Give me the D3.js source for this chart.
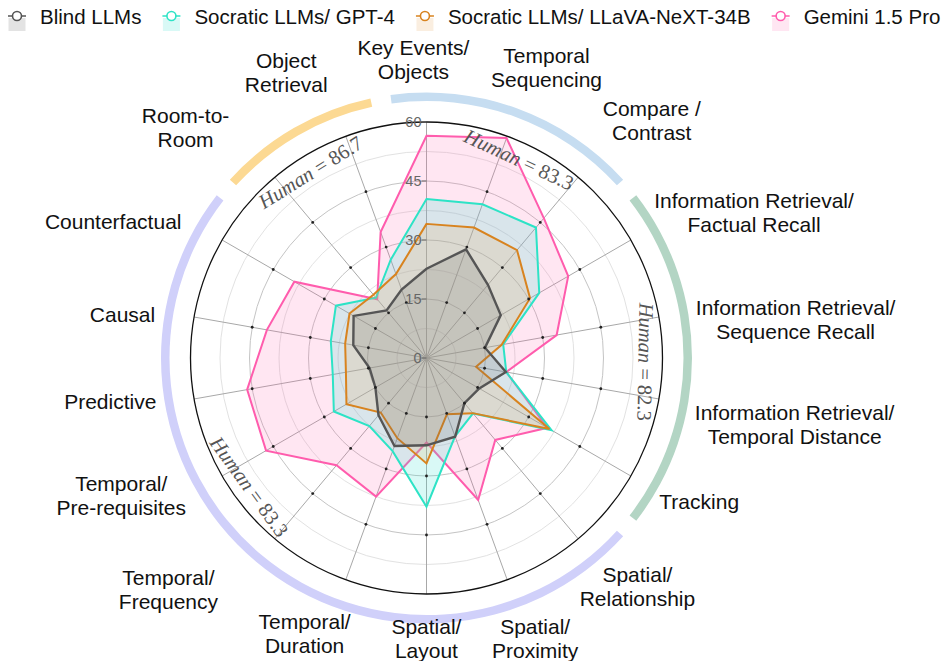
<!DOCTYPE html>
<html><head><meta charset="utf-8">
<script src="https://cdn.jsdelivr.net/npm/d3@7"></script>
<style>body{margin:0;background:#fff} svg{display:block}</style>
</head><body>
<svg id="chart" width="952" height="661"></svg>
<script>
// ---------------- DATA ----------------
const categories = [
  "Key Events/\nObjects", "Temporal\nSequencing", "Compare /\nContrast",
  "Information Retrieval/\nFactual Recall", "Information Retrieval/\nSequence Recall",
  "Information Retrieval/\nTemporal Distance", "Tracking", "Spatial/\nRelationship",
  "Spatial/\nProximity", "Spatial/\nLayout", "Temporal/\nDuration", "Temporal/\nFrequency",
  "Temporal/\nPre-requisites", "Predictive", "Causal", "Counterfactual",
  "Room-to-\nRoom", "Object\nRetrieval"
];
const seriesNames = ["Blind LLMs", "Socratic LLMs/ GPT-4", "Socratic LLMs/ LLaVA-NeXT-34B", "Gemini 1.5 Pro"];
const blindLLMs     = [22.7, 29.4, 24.3, 21.8, 15.1, 20.5, 15.5, 15.0, 21.3, 22.2, 23.8, 19.0, 15.0, 14.7, 18.9, 21.4, 15.8, 18.5];
const socraticGPT4  = [40.4, 41.6, 43.3, 33.1, 19.8, 20.6, 36.7, 18.4, 21.2, 37.8, 25.2, 22.6, 27.2, 24.2, 24.7, 26.6, 20.0, 26.6];
const socraticLLaVA = [34.1, 35.3, 35.8, 30.4, 19.4, 12.8, 36.1, 18.3, 15.2, 26.8, 21.7, 18.1, 23.5, 20.8, 21.0, 22.6, 21.0, 22.7];
const gemini15Pro   = [56.5, 59.5, 46.4, 41.6, 33.6, 20.6, 35.5, 27.2, 38.4, 21.5, 37.5, 35.6, 47.1, 46.3, 41.2, 38.8, 19.5, 34.1];
const radialTicks = [0, 15, 30, 45, 60];
// category groups (first index, last index) and human score per group
const groupFirst = [16, 0, 3, 7];
const groupLast  = [17, 2, 6, 15];
const humanScores = ["86.7", "83.3", "82.3", "83.3"];

// ---------------- LAYOUT / STYLE ----------------
const W = 952, H = 661, cx = 426.5, cy = 358, R = 236;
const seriesStyle = [
  {line: "#555555", fill: "rgba(100,100,100,0.18)", sw: 2.4},
  {line: "#2de3c6", fill: "rgba(64,224,208,0.20)", sw: 2},
  {line: "#d8831f", fill: "rgba(230,170,100,0.20)", sw: 2},
  {line: "#ff5cad", fill: "rgba(255,105,180,0.17)", sw: 2}
];
const groupColors = ["#fcd993", "#c6ddf1", "#b3d5c4", "#d0d0fa"];
const humanAngles = [328, 25, 91, 234];  // label placement (degrees)
const labelNudge = [[-13,0],[7,-10],[17,-9],[3,4],[0,13],[-1,15],[0,0],[-3,0],[0,0],[0,-18],
                    [-12,-5],[-49,3],[-11,-12],[0,-6],[-1,6],[-16,7],[-36,-2],[-32,-5]];

const svg = d3.select("#chart");
const n = categories.length;
const ang = d3.scaleLinear().domain([0, n]).range([0, 2 * Math.PI]);
const rad = d3.scaleLinear().domain([0, 60]).range([0, R]);
const g = svg.append("g").attr("transform", `translate(${cx},${cy})`);

// grid circles
const gridVals = d3.range(7.5, 60, 7.5);
g.selectAll("circle.grid").data(gridVals).join("circle")
  .attr("r", d => rad(d)).attr("fill", "none")
  .attr("stroke", d => d % 15 === 0 ? "#c4c4c4" : "#e2e2e2").attr("stroke-width", 1);
// spokes
g.selectAll("line.spoke").data(d3.range(n)).join("line")
  .attr("x1", 0).attr("y1", 0)
  .attr("x2", i => rad(60) * Math.sin(ang(i))).attr("y2", i => -rad(60) * Math.cos(ang(i)))
  .attr("stroke", "#a8a8a8").attr("stroke-width", 1);
// outer circle
g.append("circle").attr("r", rad(60)).attr("fill", "none").attr("stroke", "#111").attr("stroke-width", 1.3);

// series polygons (drawn from last to first)
const allSeries = [blindLLMs, socraticGPT4, socraticLLaVA, gemini15Pro];
const radial = d3.lineRadial().angle((d, i) => ang(i)).radius(d => rad(d)).curve(d3.curveLinearClosed);
[3, 1, 2, 0].forEach(k => {
  g.append("path").attr("d", radial(allSeries[k]))
    .attr("fill", seriesStyle[k].fill).attr("stroke", seriesStyle[k].line)
    .attr("stroke-width", seriesStyle[k].sw).attr("stroke-linejoin", "miter");
});

// dots on spokes at 15/30/45
const dotData = [];
d3.range(1, n).forEach(i => [15, 30, 45].forEach(v => dotData.push({i, v})));
g.selectAll("circle.dot").data(dotData).join("circle")
  .attr("cx", d => rad(d.v) * Math.sin(ang(d.i))).attr("cy", d => -rad(d.v) * Math.cos(ang(d.i)))
  .attr("r", 1.4).attr("fill", "#222");

// radial tick labels
radialTicks.forEach(v => {
  g.append("line").attr("x1", -5).attr("x2", 0).attr("y1", -rad(v)).attr("y2", -rad(v))
    .attr("stroke", "#666").attr("stroke-width", 1);
  g.append("text").attr("x", -5).attr("y", -rad(v)).attr("text-anchor", "end")
    .attr("dominant-baseline", "central").attr("font-family", "Liberation Sans, Arial, sans-serif")
    .attr("font-size", 14.5).attr("fill", "#666").text(v);
});

// group arcs
const pad = 2.2 * Math.PI / 180, half = Math.PI / n;
const arcGen = d3.arc().innerRadius(257).outerRadius(265.5);
groupFirst.forEach((f, k) => {
  const l = groupLast[k];
  g.append("path").attr("d", arcGen({startAngle: ang(f) - half + pad, endAngle: ang(l) + half - pad}))
    .attr("fill", groupColors[k]);
});

// human labels
humanScores.forEach((hs, k) => {
  const th = humanAngles[k] * Math.PI / 180;
  const r = 219;
  const x = r * Math.sin(th), y = -r * Math.cos(th);
  let rot = humanAngles[k];
  if (Math.cos(th) < -0.2) rot -= 180;
  if (rot > 180) rot -= 360;
  const t = g.append("text").attr("transform", `translate(${x},${y}) rotate(${rot})`)
    .attr("text-anchor", "middle").attr("dominant-baseline", "central")
    .attr("font-family", "Liberation Serif, Times New Roman, serif").attr("font-size", 20.5).attr("fill", "#555");
  t.append("tspan").attr("font-style", "italic").text("Human");
  t.append("tspan").text(" = " + hs);
});

// category labels
const LR = 275;
categories.forEach((cat, i) => {
  const lines = cat.split("\n");
  const lab = svg.append("text").attr("text-anchor", "middle")
    .attr("font-family", "Liberation Sans, Arial, sans-serif").attr("font-size", 21).attr("fill", "#111");
  lines.forEach((ln, k) => lab.append("tspan").attr("x", 0).attr("dy", k === 0 ? 0 : 24).text(ln));
  const bb = lab.node().getBBox();
  const th = ang(i), s = Math.sin(th), c = Math.cos(th);
  const tx = cx + LR * s + s * bb.width / 2 + labelNudge[i][0];
  const ty = cy - LR * c - c * bb.height / 2 + labelNudge[i][1];
  lab.attr("transform", `translate(${tx - (bb.x + bb.width / 2)},${ty - (bb.y + bb.height / 2)})`);
});

// legend
const legend = svg.append("g");
let lx = 17;
const ly = 16;
seriesNames.forEach((name, k) => {
  const it = legend.append("g");
  it.append("rect").attr("x", lx - 8.5).attr("y", ly + 2).attr("width", 17).attr("height", 13)
    .attr("fill", seriesStyle[k].fill);
  it.append("line").attr("x1", lx - 9).attr("x2", lx + 9).attr("y1", ly).attr("y2", ly)
    .attr("stroke", seriesStyle[k].line).attr("stroke-width", 1.5);
  it.append("circle").attr("cx", lx).attr("cy", ly).attr("r", 4.5)
    .attr("fill", "#fff").attr("stroke", seriesStyle[k].line).attr("stroke-width", 1.6);
  const t = it.append("text").attr("x", lx + 23).attr("y", ly).attr("dominant-baseline", "central")
    .attr("font-family", "Liberation Sans, Arial, sans-serif").attr("font-size", 20.5).attr("fill", "#111").text(name);
  lx += 23 + t.node().getComputedTextLength() + 30;
});
</script>
</body></html>
